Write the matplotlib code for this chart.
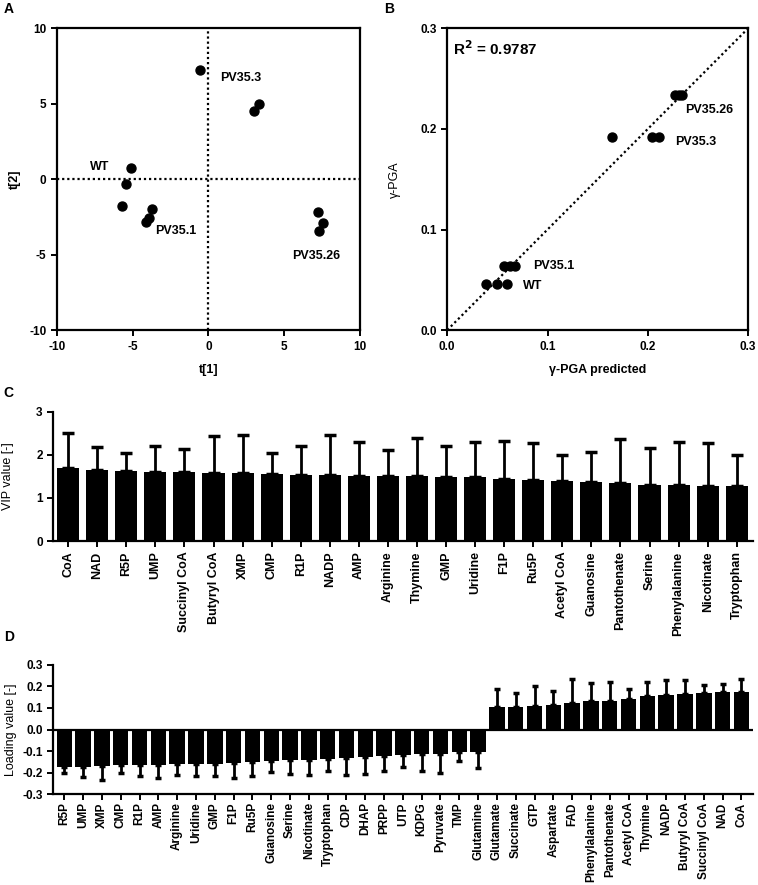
import matplotlib
matplotlib.use('Agg')
import matplotlib.pyplot as plt
import numpy as np

plt.rcParams['font.family'] = ['Liberation Sans', 'DejaVu Sans']
plt.rcParams['font.size'] = 8.5
plt.rcParams['axes.unicode_minus'] = False
plt.rcParams['axes.linewidth'] = 1.6

# panel A - scores
a_x = [-0.55, 3.03, 3.36, -5.12, -5.43, -5.67, -3.74, -3.89, -4.13, 7.25, 7.54, 7.32]
a_y = [7.24, 4.53, 4.97, 0.77, -0.29, -1.79, -1.96, -2.54, -2.83, -2.19, -2.87, -3.42]
a_labels = ['WT', 'PV35.3', 'PV35.1', 'PV35.26']
a_lab_x = [-7.8, 0.8, -3.5, 5.5]
a_lab_y = [0.6, 6.5, -3.6, -5.3]

# panel B - predicted vs measured
b_x = [0.0384, 0.0497, 0.060, 0.057, 0.0623, 0.0673, 0.164, 0.204, 0.2115, 0.227, 0.2314, 0.2343]
b_y = [0.046, 0.046, 0.046, 0.064, 0.064, 0.064, 0.192, 0.192, 0.192, 0.2335, 0.2335, 0.2335]
b_labels = ['WT', 'PV35.1', 'PV35.3', 'PV35.26']
b_lab_x = [0.076, 0.0855, 0.227, 0.237]
b_lab_y = [0.044, 0.064, 0.187, 0.219]

# panel C - VIP
c_names = ['CoA', 'NAD', 'R5P', 'UMP', 'Succinyl CoA', 'Butyryl CoA', 'XMP', 'CMP', 'R1P',
           'NADP', 'AMP', 'Arginine', 'Thymine', 'GMP', 'Uridine', 'F1P', 'Ru5P', 'Acetyl CoA',
           'Guanosine', 'Pantothenate', 'Serine', 'Phenylalanine', 'Nicotinate', 'Tryptophan']
c_vals = [1.69, 1.66, 1.62, 1.61, 1.61, 1.59, 1.58, 1.55, 1.54, 1.54, 1.52, 1.52,
          1.50, 1.48, 1.48, 1.45, 1.42, 1.39, 1.37, 1.35, 1.31, 1.31, 1.29, 1.27]
c_top = [2.50, 2.18, 2.05, 2.20, 2.13, 2.44, 2.46, 2.04, 2.21, 2.47, 2.30, 2.11,
         2.40, 2.21, 2.30, 2.33, 2.27, 1.99, 2.06, 2.38, 2.17, 2.30, 2.27, 1.99]

# panel D - loadings
d_names = ['R5P', 'UMP', 'XMP', 'CMP', 'R1P', 'AMP', 'Arginine', 'Uridine', 'GMP', 'F1P',
           'Ru5P', 'Guanosine', 'Serine', 'Nicotinate', 'Tryptophan', 'CDP', 'DHAP', 'PRPP',
           'UTP', 'KDPG', 'Pyruvate', 'TMP', 'Glutamine', 'Glutamate', 'Succinate', 'GTP',
           'Aspartate', 'FAD', 'Phenylalanine', 'Pantothenate', 'Acetyl CoA', 'Thymine',
           'NADP', 'Butyryl CoA', 'Succinyl CoA', 'NAD', 'CoA']
d_vals = [-0.173, -0.173, -0.170, -0.167, -0.167, -0.167, -0.162, -0.160, -0.160, -0.157,
          -0.153, -0.147, -0.140, -0.140, -0.137, -0.131, -0.126, -0.123, -0.117, -0.114,
          -0.112, -0.106, -0.105, 0.103, 0.105, 0.109, 0.115, 0.125, 0.134, 0.134, 0.142,
          0.156, 0.159, 0.167, 0.168, 0.173, 0.176]
d_end = [-0.200, -0.220, -0.235, -0.204, -0.215, -0.224, -0.210, -0.218, -0.216, -0.225,
         -0.216, -0.196, -0.205, -0.212, -0.193, -0.213, -0.207, -0.193, -0.173, -0.193,
         -0.204, -0.148, -0.177, 0.188, 0.170, 0.204, 0.181, 0.235, 0.215, 0.221, 0.190,
         0.221, 0.232, 0.232, 0.207, 0.210, 0.233]

dots = (0, (1, 1.3))
fig = plt.figure(figsize=(7.58, 8.85), dpi=100)

# ---- A
axA = fig.add_axes([0.075, 0.627, 0.400, 0.341])
axA.scatter(a_x, a_y, s=42, color='black', zorder=3)
axA.axhline(0, color='black', linestyle=dots, linewidth=1.6)
axA.axvline(0, color='black', linestyle=dots, linewidth=1.6)
for t, x, y in zip(a_labels, a_lab_x, a_lab_y):
    axA.text(x, y, t, fontsize=9, fontweight='bold')
axA.set_xlim(-10, 10)
axA.set_ylim(-10, 10)
axA.set_xticks([-10, -5, 0, 5, 10])
axA.set_yticks([-10, -5, 0, 5, 10])
axA.set_xlabel('t[1]', labelpad=8, fontweight='bold', fontsize=9)
axA.set_ylabel('t[2]', labelpad=6, fontweight='bold', fontsize=9)

# ---- B
axB = fig.add_axes([0.590, 0.627, 0.397, 0.341])
axB.scatter(b_x, b_y, s=42, color='black', zorder=3)
axB.plot([0, 0.3], [0, 0.3], color='black', linestyle=dots, linewidth=1.6)
for t, x, y in zip(b_labels, b_lab_x, b_lab_y):
    axB.text(x, y, t, fontsize=9, fontweight='bold', va='center')
axB.text(0.006, 0.28, 'R$^\\mathbf{2}$ = 0.9787', fontsize=11, fontweight='bold', va='center')
axB.set_xlim(0, 0.3)
axB.set_ylim(0, 0.3)
axB.set_xticks([0, 0.1, 0.2, 0.3])
axB.set_yticks([0, 0.1, 0.2, 0.3])
axB.set_xticklabels(['0.0', '0.1', '0.2', '0.3'])
axB.set_yticklabels(['0.0', '0.1', '0.2', '0.3'])
axB.set_xlabel('γ-PGA predicted', labelpad=8, fontweight='bold', fontsize=9)
axB.set_ylabel('γ-PGA', labelpad=14, fontsize=9)

for ax in (axA, axB):
    ax.tick_params(direction='out', length=4, width=1.4)

# ---- C
axC = fig.add_axes([0.070, 0.3887, 0.923, 0.1458])
xc = np.arange(len(c_names))
c_err = [np.zeros(len(c_vals)), np.array(c_top) - np.array(c_vals)]
axC.bar(xc, c_vals, width=0.76, color='black', yerr=c_err, capsize=4,
        error_kw=dict(elinewidth=2, capthick=2.5, ecolor='black'))
axC.set_xlim(-0.52, len(c_names) - 0.45)
axC.set_ylim(0, 3)
axC.set_yticks([0, 1, 2, 3])
axC.set_xticks(xc)
axC.set_xticklabels(c_names, rotation=90, fontsize=9, fontweight='bold')
axC.set_ylabel('VIP value [-]', labelpad=16, fontsize=9)

# ---- D
axD = fig.add_axes([0.070, 0.1028, 0.923, 0.1458])
xd = np.arange(len(d_names))
d_lo = [abs(e - v) if v < 0 else 0 for v, e in zip(d_vals, d_end)]
d_hi = [abs(e - v) if v > 0 else 0 for v, e in zip(d_vals, d_end)]
axD.bar(xd, d_vals, width=0.82, color='black', yerr=[d_lo, d_hi], capsize=2.5,
        error_kw=dict(elinewidth=2, capthick=2.5, ecolor='black'))
axD.axhline(0, color='black', linewidth=1.6)
axD.set_xlim(-0.6, len(d_names) - 0.4)
axD.set_ylim(-0.3, 0.3)
axD.set_yticks([-0.3, -0.2, -0.1, 0, 0.1, 0.2, 0.3])
axD.set_yticklabels(['-0.3', '-0.2', '-0.1', '0.0', '0.1', '0.2', '0.3'])
axD.set_xticks(xd)
axD.set_xticklabels(d_names, rotation=90, fontsize=8.5, fontweight='bold')
axD.tick_params(axis='x', pad=2)
axD.set_ylabel('Loading value [-]', labelpad=4, fontsize=9)

for ax in (axC, axD):
    ax.spines['top'].set_visible(False)
    ax.spines['right'].set_visible(False)
    ax.tick_params(direction='out', length=4, width=1.4)

for ax in (axA, axB, axC, axD):
    for lab in ax.get_yticklabels():
        lab.set_fontweight('bold')
for ax in (axA, axB):
    for lab in ax.get_xticklabels():
        lab.set_fontweight('bold')

fig.text(0.005, 0.985, 'A', fontsize=10, fontweight='bold')
fig.text(0.507, 0.985, 'B', fontsize=10, fontweight='bold')
fig.text(0.005, 0.551, 'C', fontsize=10, fontweight='bold')
fig.text(0.005, 0.276, 'D', fontsize=10, fontweight='bold')

fig.savefig('out.png', dpi=100)
